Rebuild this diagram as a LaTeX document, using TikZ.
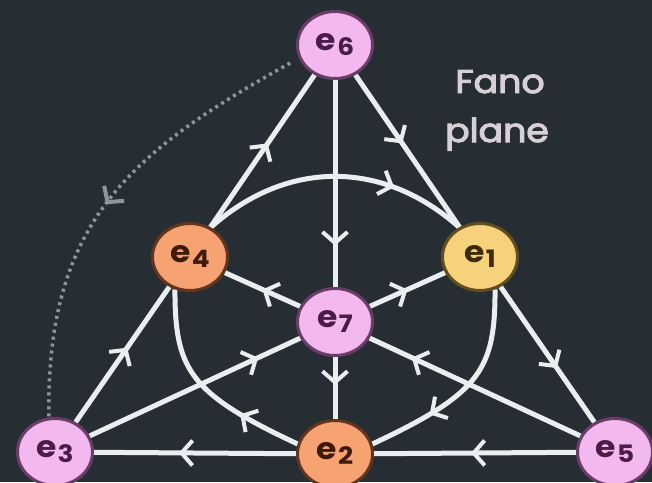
\documentclass[tikz,border=0pt]{standalone}
\usepackage{fontspec}
\setmainfont{Poppins}
\newfontfamily\fanofont{Poppins}[FakeBold=3]
\usetikzlibrary{shapes.geometric,arrows.meta,decorations.markings,backgrounds}
\definecolor{bg}{HTML}{262E34}
\definecolor{pinkf}{HTML}{F3B9EE}
\definecolor{pinkd}{HTML}{4A1D48}
\definecolor{orgf}{HTML}{F6A273}
\definecolor{orgd}{HTML}{3E1A08}
\definecolor{yelf}{HTML}{F7D27C}
\definecolor{yeld}{HTML}{3D2C08}
\definecolor{wline}{HTML}{E9EEF0}
\definecolor{dotc}{HTML}{8E969A}
\definecolor{txtc}{HTML}{D8D0D6}
\newcommand{\fanolbl}[1]{\scalebox{1.1}[1]{{\fontsize{30}{30}\selectfont e}\kern1pt\raisebox{-5pt}{\fontsize{24}{24}\selectfont #1}}}
\begin{document}
\begin{tikzpicture}[x=1pt,y=-1pt,
  vtx/.style={ellipse, minimum width=75pt, minimum height=67pt, inner sep=0pt, line width=3pt, font=\bfseries},
  pinkv/.style={vtx, fill=pinkf, draw=pinkd!80!pinkf, text=pinkd},
  orgv/.style={vtx, fill=orgf, draw=orgd!80!orgf, text=orgd},
  yelv/.style={vtx, fill=yelf, draw=yeld!80!yelf, text=yeld},
  conn/.style={color=wline, line width=5pt},
  dotconn/.style={color=dotc, line width=3.5pt, dash pattern=on 3pt off 4pt},
  midarrow/.style={postaction={decorate, decoration={markings, mark=at position #1 with {\arrow{Straight Barb[length=11pt,width=25pt,line width=4pt]}}}}},
  fanotxt/.style={text=txtc, font=\fanofont\fontsize{33}{33}\selectfont, inner sep=0pt, anchor=base}
]
\useasboundingbox (0,0) rectangle (652,482);
% nodes
\node[pinkv] (e6) at (335,45) {\fanolbl{6}};
\node[orgv]  (e4) at (190,257) {\fanolbl{4}};
\node[yelv]  (e1) at (480,257) {\fanolbl{1}};
\node[pinkv] (e7) at (335,322) {\fanolbl{7}};
\node[pinkv] (e3) at (55,452) {\fanolbl{3}};
\node[orgv]  (e2) at (335,454) {\fanolbl{2}};
\node[pinkv] (e5) at (615,452) {\fanolbl{5}};
\node[fanotxt] (t1) at (500,93) {\scalebox{1.1}[1]{Fano}};
\node[fanotxt] (t2) at (497,142) {\scalebox{1.1}[1]{plane}};
\begin{scope}[on background layer]
\fill[bg] (0,0) rectangle (652,482);
% outer triangle
\draw[conn, midarrow=0.55] (e4) -- (e6);
\draw[conn, midarrow=0.45] (e6) -- (e1);
\draw[conn, midarrow=0.55] (e3) -- (e4);
\draw[conn, midarrow=0.6] (e1) -- (e5);
\draw[conn, midarrow=0.52] (e5) -- (e2);
\draw[conn, midarrow=0.58] (e2) -- (e3);
% lines through e7
\draw[conn, midarrow=0.8] (e6) -- (e7);
\draw[conn, midarrow=0.45] (e7) -- (e2);
\draw[conn, midarrow=0.5] (e7) -- (e4);
\draw[conn, midarrow=0.5] (e7) -- (e1);
\draw[conn, midarrow=0.8] (e3) -- (e7);
\draw[conn, midarrow=0.8] (e5) -- (e7);
% inner circle
\draw[conn, midarrow=0.72] (e4.55) .. controls +(76,-68) and +(-76,-68) .. (e1.125);
\draw[conn, midarrow=0.7] (e1.-65) .. controls +(0,80) and +(109,-51) .. (e2.15);
\draw[conn, midarrow=0.3] (e2.165) .. controls +(-109,-51) and +(0,80) .. (e4.-115);
% dotted arc
\draw[dotconn, shorten <=10pt, midarrow=0.52] (e6.200) .. controls +(-170,95) and +(-3,-195) .. (e3.100);
\end{scope}
\end{tikzpicture}
\end{document}
